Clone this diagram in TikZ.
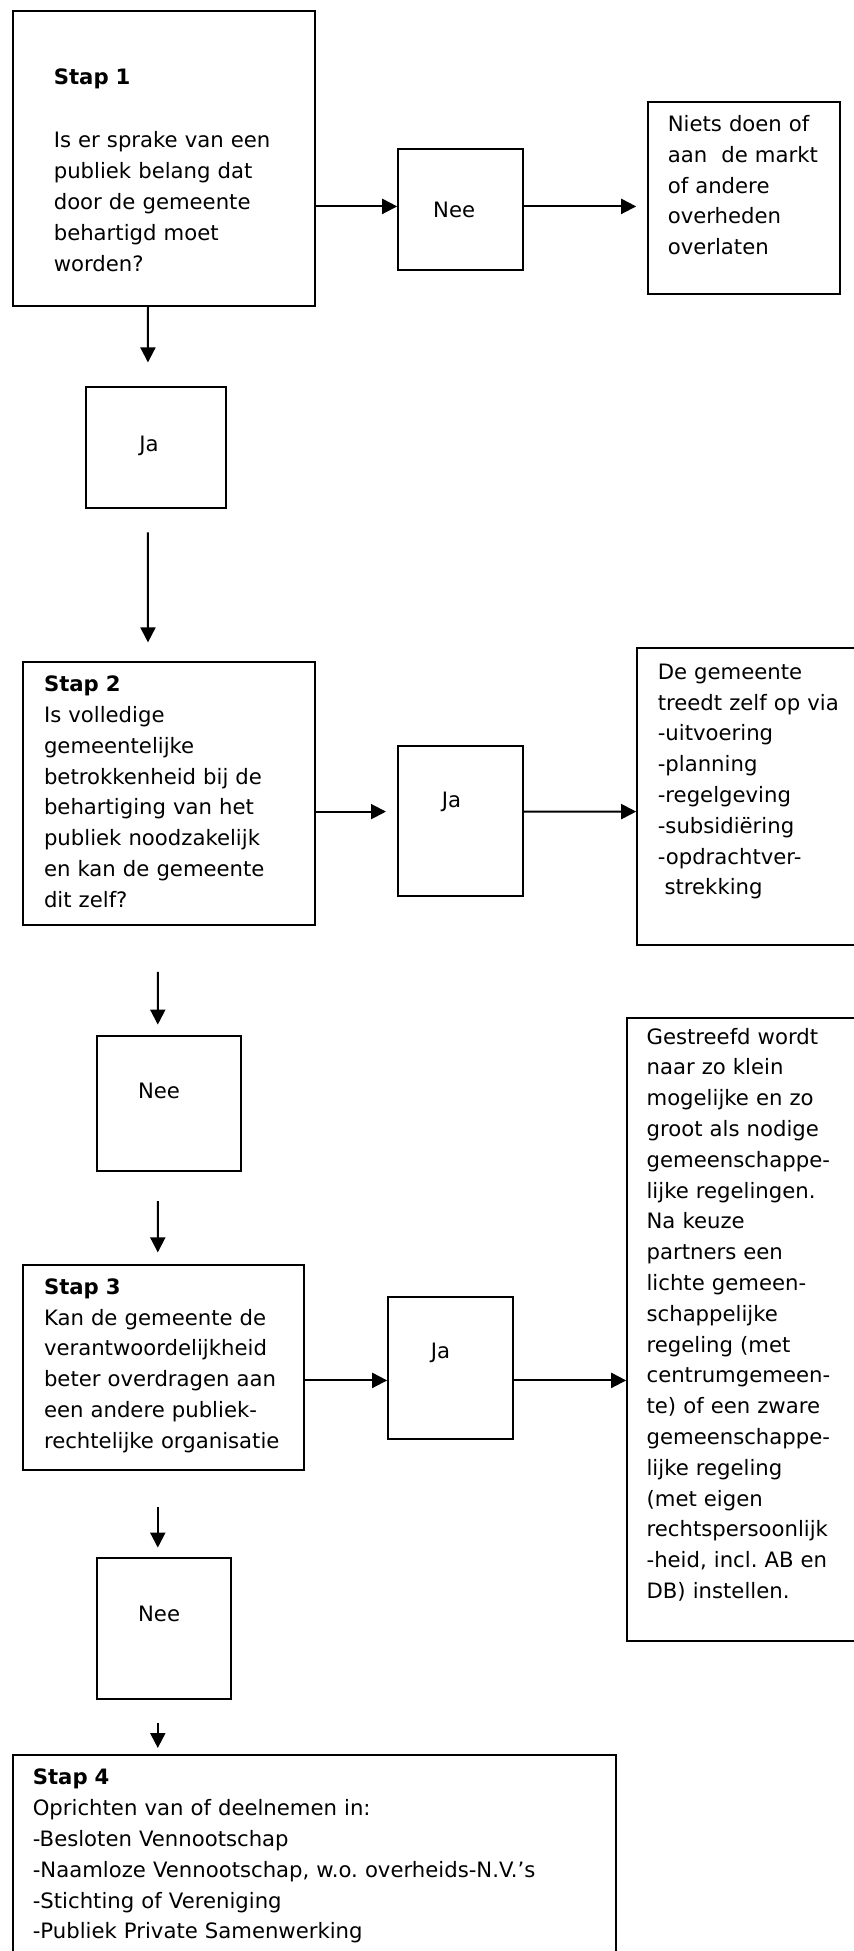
\documentclass[tikz,border=0pt]{standalone}
\usepackage{fontspec}
\setmainfont{DejaVu Sans}
\usetikzlibrary{arrows.meta}
\frenchspacing

\begin{document}
\begin{tikzpicture}[x=1pt, y=-1pt,
  box/.style={draw, line width=1pt, inner sep=0pt, anchor=north west},
  txt/.style={align=left, inner sep=0pt, anchor=base west, font=\fontsize{10.6pt}{15.4pt}\selectfont},
  yesno/.style={inner sep=0pt, font=\fontsize{10.6pt}{15.4pt}\selectfont},
  arr/.style={line width=1pt, -{Triangle[length=7.5pt, width=7.5pt]}}]
  \useasboundingbox (0,0) rectangle (427,975.5);
  \clip (0,0) rectangle (427,975.5);
  \node [box, minimum width=150.7pt, minimum height=147.5pt,
    label={[txt, text width=135pt, xshift=20.5pt, yshift=-37.1pt]north west:{\textbf{Stap 1}\\[16.4pt]Is er sprake van een\\publiek belang dat\\door de gemeente\\behartigd moet\\worden?}}] (s1) at (6.2,5.0) {};
  \node [box, minimum width=62.2pt, minimum height=60.4pt,
    label={[yesno, xshift=-3.1pt]center:Nee}] (n1) at (198.6,74.1) {};
  \node [box, minimum width=95.9pt, minimum height=95.9pt,
    label={[txt, text width=88pt, xshift=10pt, yshift=-15.3pt]north west:{Niets doen of\\aan\ \ de markt\\of andere\\overheden\\overlaten}}] (r1) at (323.7,50.4) {};
  \node [box, minimum width=70.3pt, minimum height=60.4pt,
    label={[yesno, xshift=-3.4pt, yshift=0.9pt]center:Ja}] (j1) at (42.3,193.0) {};
  \node [box, minimum width=145.7pt, minimum height=131.4pt,
    label={[txt, text width=134pt, xshift=10.6pt, yshift=-15.3pt]north west:{\textbf{Stap 2}\\Is volledige\\gemeentelijke\\betrokkenheid bij de\\behartiging van het\\publiek noodzakelijk\\en kan de gemeente\\dit zelf?}}] (s2) at (11.2,330.5) {};
  \node [box, minimum width=62.2pt, minimum height=75.3pt,
    label={[yesno, xshift=-4.4pt, yshift=9.6pt]center:Ja}] (j2) at (198.6,372.3) {};
  \node [box, minimum width=121.9pt, minimum height=148.2pt,
    label={[txt, text width=105pt, xshift=10.6pt, yshift=-15.9pt]north west:{De gemeente\\treedt zelf op via\\-uitvoering\\-planning\\-regelgeving\\-subsidiëring\\-opdrachtver-\\\hspace{0.32em}strekking}}] (r2) at (318.1,323.7) {};
  \node [box, minimum width=72.2pt, minimum height=67.9pt,
    label={[yesno, xshift=-5pt, yshift=6.5pt]center:Nee}] (n2) at (47.9,517.3) {};
  \node [box, minimum width=140.1pt, minimum height=102.8pt,
    label={[txt, text width=132pt, xshift=10.6pt, yshift=-15.3pt]north west:{\textbf{Stap 3}\\Kan de gemeente de\\verantwoordelijkheid\\beter overdragen aan\\een andere publiek-\\rechtelijke organisatie}}] (s3) at (11.2,631.8) {};
  \node [box, minimum width=62.2pt, minimum height=71pt,
    label={[yesno, xshift=-5pt, yshift=7.5pt]center:Ja}] (j3) at (193.6,648.0) {};
  \node [box, minimum width=126.9pt, minimum height=311.2pt,
    label={[txt, text width=110pt, xshift=10pt, yshift=-13.4pt]north west:{Gestreefd wordt\\naar zo klein\\mogelijke en zo\\groot als nodige\\gemeenschappe-\\lijke regelingen.\\Na keuze\\partners een\\lichte gemeen-\\schappelijke\\regeling (met\\centrumgemeen-\\te) of een zware\\gemeenschappe-\\lijke regeling\\(met eigen\\rechtspersoonlijk\\-heid, incl. AB en\\DB) instellen.}}] (r3) at (313.1,508.6) {};
  \node [box, minimum width=67.3pt, minimum height=70.4pt,
    label={[yesno, xshift=-2.5pt, yshift=7.2pt]center:Nee}] (n3) at (47.9,778.7) {};
  \node [box, minimum width=301.3pt, minimum height=112.9pt,
    label={[txt, text width=285pt, xshift=10pt, yshift=-15.3pt]north west:{\textbf{Stap 4}\\Oprichten van of deelnemen in:\\-Besloten Vennootschap\\-Naamloze Vennootschap, w.o. overheids-N.V.’s\\-Stichting of Vereniging\\-Publiek Private Samenwerking}}] (s4) at (6.2,877.1) {};

  \draw [arr] ([yshift=-23.95pt]s1.east) -- ([yshift=1.6pt]n1.west);
  \draw [arr, shorten >=5.6pt] ([yshift=1.6pt]n1.east) -- ([yshift=-4.35pt]r1.west);
  \draw [arr, shorten >=11.8pt] ([xshift=-8.05pt]s1.south) -- ([xshift=-4pt]j1.north);
  \draw [arr, shorten <=11.8pt, shorten >=9.3pt] ([xshift=-4pt]j1.south) -- ([xshift=-10.55pt]s2.north);
  \draw [arr, shorten >=5.6pt] ([yshift=-9.1pt]s2.east) -- ([yshift=4.65pt]j2.west);
  \draw [arr] ([yshift=4.65pt]j2.east) -- ([yshift=-7.5pt]r2.west);
  \draw [arr, shorten <=23pt, shorten >=5pt] ([xshift=-5.65pt]s2.south) -- ([xshift=-5.6pt]n2.north);
  \draw [arr, shorten <=14.3pt, shorten >=5.6pt] ([xshift=-5.6pt]n2.south) -- ([xshift=-2.85pt]s3.north);
  \draw [arr] ([yshift=-6.5pt]s3.east) -- ([yshift=-6.2pt]j3.west);
  \draw [arr] ([yshift=-6.2pt]j3.east) -- ([yshift=-25.5pt]r3.west);
  \draw [arr, shorten <=18pt, shorten >=4.9pt] ([xshift=-2.85pt]s3.south) -- ([xshift=-3.15pt]n3.north);
  \draw [arr, shorten <=11.2pt, shorten >=3.1pt] ([xshift=-3.15pt]n3.south) -- ([xshift=-78.45pt]s4.north);
\end{tikzpicture}
\end{document}
